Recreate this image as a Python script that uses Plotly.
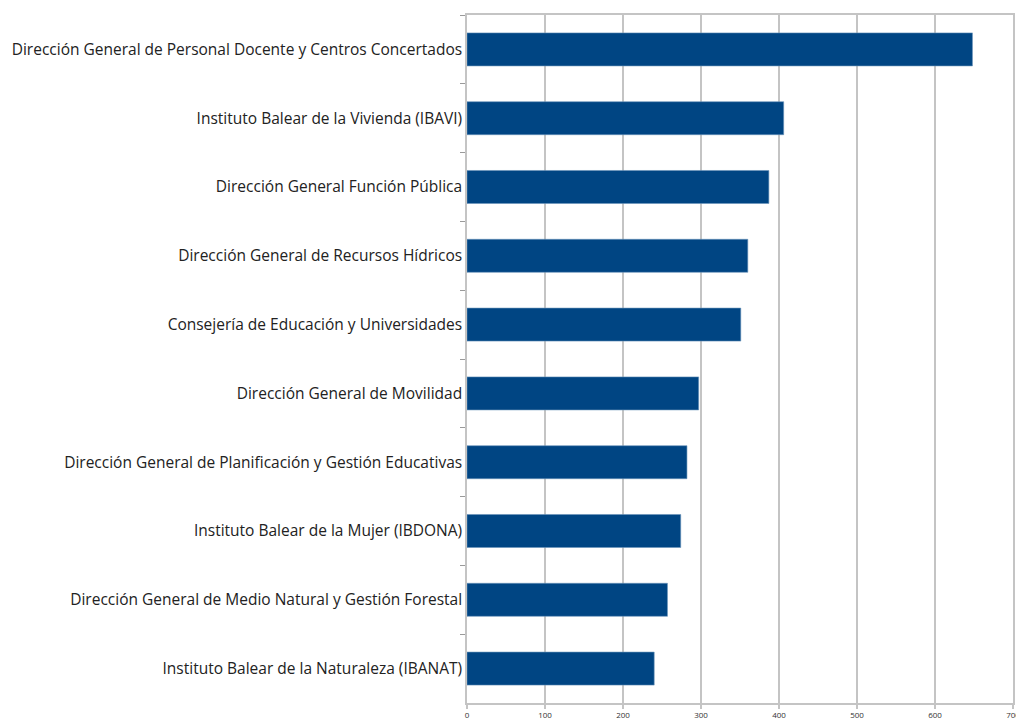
import plotly.graph_objects as go

categories = [
    "Dirección General de Personal Docente y Centros Concertados",
    "Instituto Balear de la Vivienda (IBAVI)",
    "Dirección General Función Pública",
    "Dirección General de Recursos Hídricos",
    "Consejería de Educación y Universidades",
    "Dirección General de Movilidad",
    "Dirección General de Planificación y Gestión Educativas",
    "Instituto Balear de la Mujer (IBDONA)",
    "Dirección General de Medio Natural y Gestión Forestal",
    "Instituto Balear de la Naturaleza (IBANAT)",
]
values = [648, 406, 387, 360, 351, 297, 282, 274, 257, 240]
x_ticks = [0, 100, 200, 300, 400, 500, 600, 700]

fig = go.Figure(
    go.Bar(
        y=categories,
        x=values,
        orientation="h",
        width=0.48,
        marker=dict(color="#004583", line=dict(color="#6a93bb", width=0.6)),
    )
)

# page body has an 8px margin, so the figure is sized to fill the rest
fig.update_layout(
    width=1016,
    height=714,
    margin=dict(l=459, r=11, t=7, b=19, autoexpand=False),
    paper_bgcolor="white",
    plot_bgcolor="white",
    showlegend=False,
    font=dict(family="Open Sans", color="#222222"),
    xaxis=dict(
        range=[0, 700],
        tickvals=x_ticks,
        ticktext=[str(v) for v in x_ticks],
        tickfont=dict(size=8, color="#333333"),
        showgrid=True,
        gridcolor="#c4c4c4",
        gridwidth=1.5,
        showline=True,
        linecolor="#c4c4c4",
        linewidth=1.5,
        mirror=True,
        ticks="outside",
        ticklen=4,
        tickcolor="#c4c4c4",
        tickwidth=1.5,
        zeroline=False,
        automargin=False,
        fixedrange=True,
    ),
    yaxis=dict(
        categoryorder="array",
        categoryarray=categories,
        autorange="reversed",
        tickfont=dict(size=15.5, color="#222222"),
        showline=True,
        linecolor="#c4c4c4",
        linewidth=1.5,
        mirror=True,
        ticks="outside",
        tickson="boundaries",
        ticklen=5,
        tickcolor="#9a9a9a",
        tickwidth=1,
        showgrid=False,
        automargin=False,
        fixedrange=True,
    ),
)

fig.write_html("out.html")
